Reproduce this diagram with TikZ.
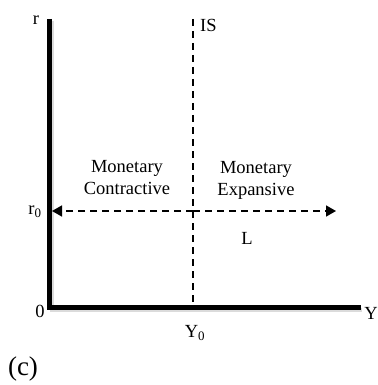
\documentclass[tikz,border=0pt]{standalone}
\usepackage{fontspec}
\setmainfont{Liberation Serif}
\usetikzlibrary{arrows.meta}
\begin{document}
\begin{tikzpicture}[x=1pt,y=-1pt,
  axis/.style={line width=5pt},
  shadowline/.style={line width=4pt,draw=black!14},
  guide/.style={line width=1.6pt,dash pattern=on 7pt off 5pt},
  lbl/.style={font=\fontsize{18.5}{22}\selectfont,inner sep=0pt},
  tip/.style={-{Triangle[length=10pt,width=11pt]}}]
\useasboundingbox (0,0) rectangle (377,385);
% shadows
\draw[shadowline] (52,21) -- (52,310) -- (362,310);
% axes
\coordinate (top) at (49,19);
\coordinate (orig) at (49,307);
\coordinate (right) at (361,307);
\draw[axis] (top) -- (orig) -- (right);
% guides
\coordinate (ist) at (193,19);
\coordinate (isb) at (193,305);
\draw[guide] (ist) -- (isb);
\coordinate (mid) at (193,211);
\coordinate (lt) at (52,211);
\coordinate (rt) at (336,211);
\draw[guide,tip] (mid) -- (lt);
\draw[guide,tip] (mid) -- (rt);
% labels
\node[lbl] (r) at (36,20) {r};
\node[lbl] (r0) at (35,212) {r\textsubscript{0}};
\node[lbl] (zero) at (40,311) {0};
\node[lbl] (Y) at (371,313) {Y};
\node[lbl] (Y0) at (195,333) {Y\textsubscript{0}};
\node[lbl,anchor=west] (IS) at (200,25) {IS};
\node[lbl,align=center] (mc) at (127,178) {Monetary\\Contractive};
\node[lbl,align=center] (me) at (256,180) {Monetary\\Expansive};
\node[lbl] (L) at (247,238) {L};
\node[font=\fontsize{27}{30}\selectfont,inner sep=0pt] (c) at (23,369) {(c)};
\end{tikzpicture}
\end{document}
